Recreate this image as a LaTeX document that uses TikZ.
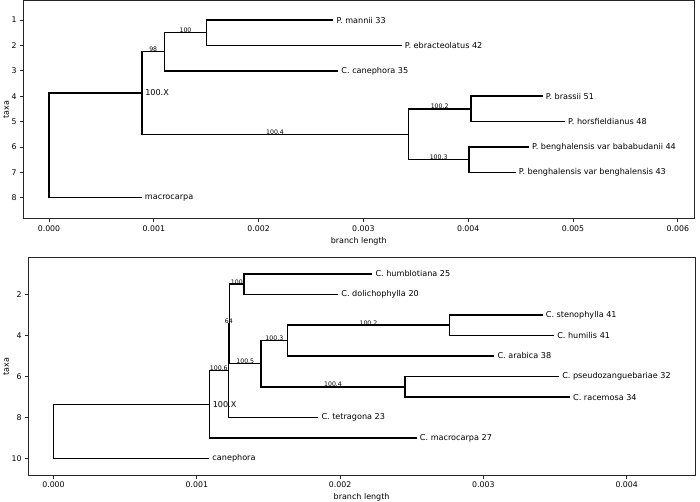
\documentclass[tikz,border=0pt]{standalone}
\usepackage{fontspec}
\setmainfont{DejaVu Sans}
\usetikzlibrary{calc}
\tikzset{
  br/.style={line width=1.5pt, line join=miter, black},
  spine/.style={line width=0.9pt, black!85},
  tickmark/.style={line width=0.9pt, black!85},
  leaflab/.style={anchor=west, inner sep=0pt, xshift=3pt, font=\fontsize{8.1}{9}\selectfont},
  cladelab/.style={anchor=west, inner sep=0pt, xshift=3.3pt, font=\fontsize{8.1}{9}\selectfont},
  brlab/.style={anchor=base, inner sep=0pt, font=\fontsize{6.2}{7}\selectfont},
  ticklab/.style={inner sep=0pt, font=\fontsize{7.8}{9}\selectfont},
  axlab/.style={inner sep=0pt, font=\fontsize{8}{9}\selectfont}
}
\begin{document}
\begin{tikzpicture}[x=1pt,y=-1pt]
\useasboundingbox (0,0) rectangle (700,501);
\fill[white] (0,0) rectangle (700,501);

% ================= TOP PANEL axes =================
\draw[spine] (23.3,0.8) rectangle (694.3,218.3);
\foreach \k/\lab in {0/0.000,1/0.001,2/0.002,3/0.003,4/0.004,5/0.005,6/0.006}{
  \pgfmathsetmacro{\px}{49+104.8*\k}
  \draw[tickmark] (\px,218.3) -- (\px,221.8);
  \node[ticklab] (tx\k) at (\px,228.5) {\lab};
}
\foreach \t in {1,...,8}{
  \pgfmathsetmacro{\py}{20+25.39*(\t-1)}
  \draw[tickmark] (23.3,\py) -- (19.8,\py);
  \node[ticklab, anchor=east] (ty\t) at (16.8,\py) {\t};
}
\node[axlab] (xlabA) at (358.8,241.5) {branch length};
\node[axlab, rotate=90] (ylabA) at (6,109.5) {taxa};

% ================= TOP TREE =================
\begin{scope}[shift={(49pt,5.39pt)},x=104.8pt,y=-25.39pt]
  \coordinate (r) at (0,5.9375);
  \coordinate (nX) at (0.885,3.875);
  \coordinate (n98) at (1.104,2.25);
  \coordinate (n100) at (1.501,1.5);
  \coordinate (n1004) at (3.428,5.5);
  \coordinate (n1002) at (4.027,4.5);
  \coordinate (n1003) at (4.008,6.5);
  \coordinate (lMan) at (2.713,1);
  \coordinate (lEbr) at (3.366,2);
  \coordinate (lCan) at (2.760,3);
  \coordinate (lBra) at (4.711,4);
  \coordinate (lHor) at (4.924,5);
  \coordinate (lBab) at (4.580,6);
  \coordinate (lBen) at (4.453,7);
  \coordinate (lMac) at (0.885,8);
  \draw[br] (r) |- (nX);
  \draw[br] (r) |- (lMac);
  \draw[br] (nX) |- (n98);
  \draw[br] (nX) |- (n1004);
  \draw[br] (n98) |- (n100);
  \draw[br] (n98) |- (lCan);
  \draw[br] (n100) |- (lMan);
  \draw[br] (n100) |- (lEbr);
  \draw[br] (n1004) |- (n1002);
  \draw[br] (n1004) |- (n1003);
  \draw[br] (n1002) |- (lBra);
  \draw[br] (n1002) |- (lHor);
  \draw[br] (n1003) |- (lBab);
  \draw[br] (n1003) |- (lBen);
  \node[leaflab] (tMan) at (lMan) {P. mannii 33};
  \node[leaflab] (tEbr) at (lEbr) {P. ebracteolatus 42};
  \node[leaflab] (tCan) at (lCan) {C. canephora 35};
  \node[leaflab] (tBra) at (lBra) {P. brassii 51};
  \node[leaflab] (tHor) at (lHor) {P. horsfieldianus 48};
  \node[leaflab] (tBab) at (lBab) {P. benghalensis var bababudanii 44};
  \node[leaflab] (tBen) at (lBen) {P. benghalensis var benghalensis 43};
  \node[leaflab] (tMac) at (lMac) {macrocarpa};
  \node[cladelab] (cX) at (nX) {100.X};
  \node[brlab] (b98) at ($(nX|-n98)!.5!(n98)$) {98};
  \node[brlab] (b100) at ($(n98|-n100)!.5!(n100)$) {100};
  \node[brlab] (b1004) at ($(nX|-n1004)!.5!(n1004)$) {100.4};
  \node[brlab] (b1002) at ($(n1004|-n1002)!.5!(n1002)$) {100.2};
  \node[brlab] (b1003) at ($(n1004|-n1003)!.5!(n1003)$) {100.3};
\end{scope}

% ================= BOTTOM PANEL axes =================
\draw[spine] (28.3,257.3) rectangle (695,475.3);
\foreach \k/\lab in {0/0.000,1/0.001,2/0.002,3/0.003,4/0.004}{
  \pgfmathsetmacro{\px}{53.5+143.3*\k}
  \draw[tickmark] (\px,475.3) -- (\px,478.8);
  \node[ticklab] (bx\k) at (\px,484.5) {\lab};
}
\foreach \t in {2,4,6,8,10}{
  \pgfmathsetmacro{\py}{253.2+20.55*\t}
  \draw[tickmark] (28.3,\py) -- (24.8,\py);
  \node[ticklab, anchor=east] (by\t) at (21.8,\py) {\t};
}
\node[axlab] (xlabB) at (361.6,497.5) {branch length};
\node[axlab, rotate=90] (ylabB) at (6,366.3) {taxa};

% ================= BOTTOM TREE =================
\begin{scope}[shift={(53.5pt,-253.2pt)},x=143.3pt,y=-20.55pt]
  \coordinate (r2) at (0,8.68);
  \coordinate (mX) at (1.087,7.359);
  \coordinate (m1006) at (1.220,5.71875);
  \coordinate (m64) at (1.228,3.4375);
  \coordinate (m100) at (1.331,1.5);
  \coordinate (m1005) at (1.448,5.375);
  \coordinate (m1003) at (1.634,4.25);
  \coordinate (m1002) at (2.762,3.5);
  \coordinate (m1004) at (2.453,6.5);
  \coordinate (lHum) at (2.225,1);
  \coordinate (lDol) at (1.987,2);
  \coordinate (lSte) at (3.414,3);
  \coordinate (lHumi) at (3.493,4);
  \coordinate (lAra) at (3.076,5);
  \coordinate (lPse) at (3.528,6);
  \coordinate (lRac) at (3.604,7);
  \coordinate (lTet) at (1.848,8);
  \coordinate (lCmac) at (2.535,9);
  \coordinate (lCane) at (1.087,10);
  \draw[br] (r2) |- (mX);
  \draw[br] (r2) |- (lCane);
  \draw[br] (mX) |- (m1006);
  \draw[br] (mX) |- (lCmac);
  \draw[br] (m1006) |- (m64);
  \draw[br] (m1006) |- (lTet);
  \draw[br] (m64) |- (m100);
  \draw[br] (m64) |- (m1005);
  \draw[br] (m100) |- (lHum);
  \draw[br] (m100) |- (lDol);
  \draw[br] (m1005) |- (m1003);
  \draw[br] (m1005) |- (m1004);
  \draw[br] (m1003) |- (m1002);
  \draw[br] (m1003) |- (lAra);
  \draw[br] (m1002) |- (lSte);
  \draw[br] (m1002) |- (lHumi);
  \draw[br] (m1004) |- (lPse);
  \draw[br] (m1004) |- (lRac);
  \node[leaflab] (sHum) at (lHum) {C. humblotiana 25};
  \node[leaflab] (sDol) at (lDol) {C. dolichophylla 20};
  \node[leaflab] (sSte) at (lSte) {C. stenophylla 41};
  \node[leaflab] (sHumi) at (lHumi) {C. humilis 41};
  \node[leaflab] (sAra) at (lAra) {C. arabica 38};
  \node[leaflab] (sPse) at (lPse) {C. pseudozanguebariae 32};
  \node[leaflab] (sRac) at (lRac) {C. racemosa 34};
  \node[leaflab] (sTet) at (lTet) {C. tetragona 23};
  \node[leaflab] (sCmac) at (lCmac) {C. macrocarpa 27};
  \node[leaflab] (sCane) at (lCane) {canephora};
  \node[cladelab] (dX) at (mX) {100.X};
  \node[brlab] (e1006) at ($(mX|-m1006)!.5!(m1006)$) {100.6};
  \node[brlab] (e64) at ($(m1006|-m64)!.5!(m64)$) {64};
  \node[brlab] (e100) at ($(m64|-m100)!.5!(m100)$) {100};
  \node[brlab] (e1005) at ($(m64|-m1005)!.5!(m1005)$) {100.5};
  \node[brlab] (e1003) at ($(m1005|-m1003)!.5!(m1003)$) {100.3};
  \node[brlab] (e1002) at ($(m1003|-m1002)!.5!(m1002)$) {100.2};
  \node[brlab] (e1004) at ($(m1005|-m1004)!.5!(m1004)$) {100.4};
\end{scope}
\end{tikzpicture}
\end{document}
